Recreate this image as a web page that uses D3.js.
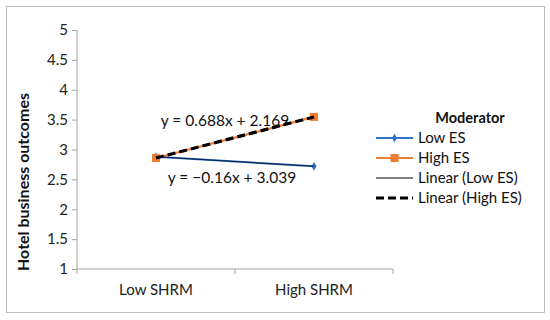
<!DOCTYPE html>
<html><head><meta charset="utf-8">
<script src="https://cdn.jsdelivr.net/npm/d3@7"></script>
<style>body{margin:0;background:#fff;} text{font-family:Lato,"Open Sans",sans-serif;}</style>
</head><body><svg id="c" width="550" height="320"></svg>
<script>
const categories = ["Low SHRM", "High SHRM"];
const lowES = [2.879, 2.719];
const highES = [2.857, 3.545];
const trendLow = {slope: -0.16, intercept: 3.039, label: "y = \u22120.16x + 3.039"};
const trendHigh = {slope: 0.688, intercept: 2.169, label: "y = 0.688x + 2.169"};
const yTicks = [1, 1.5, 2, 2.5, 3, 3.5, 4, 4.5, 5];
const legendItems = ["Low ES", "High ES", "Linear (Low ES)", "Linear (High ES)"];

const svg = d3.select("#c");
svg.append("rect").attr("x",6.5).attr("y",6.5).attr("width",538).attr("height",306)
  .attr("fill","#fff").attr("stroke","#bdbdbd").attr("stroke-width",1);

const x0 = 77, x1 = 393, yTop = 30, yBot = 269;
const x = d3.scaleBand().domain(categories).range([x0, x1]);
const y = d3.scaleLinear().domain([1,5]).range([yBot, yTop]);
const cx = c => x(c) + x.bandwidth()/2;

// y axis
const ya = svg.append("g").attr("transform",`translate(${x0},0)`)
  .call(d3.axisLeft(y).tickValues(yTicks).tickSize(5).tickPadding(4).tickFormat(d=>String(d)));
ya.select(".domain").attr("stroke","#a6a6a6").attr("d",`M0,${yTop}V${yBot}`);
ya.selectAll(".tick line").attr("stroke","#a6a6a6");
ya.selectAll("text").attr("font-size",15).attr("fill","#222").style("font-family","Lato,sans-serif");

// x axis
const xa = svg.append("g").attr("transform",`translate(0,${yBot})`)
  .call(d3.axisBottom(x).tickSize(0).tickPadding(15));
xa.select(".domain").attr("stroke","#a6a6a6").attr("d",`M${x0},0H${x1}`);
xa.selectAll("text").attr("font-size",15).attr("fill","#222").style("font-family","Lato,sans-serif");
[x0, x0 + x.bandwidth(), x1].forEach(v=>{
  xa.append("line").attr("x1",v).attr("x2",v).attr("y1",0).attr("y2",5).attr("stroke","#a6a6a6");
});

// y title
svg.append("text").attr("transform",`translate(29,182) rotate(-90)`)
  .attr("text-anchor","middle").attr("font-size",16).attr("font-weight","bold").attr("fill","#111")
  .text("Hotel business outcomes");

const line = d3.line().x((d,i)=>cx(categories[i])).y(d=>y(d));
const blue = "#2e75c6", orange = "#ed7d31";

// series
svg.append("path").datum(lowES).attr("d",line).attr("fill","none").attr("stroke",blue).attr("stroke-width",2);
svg.append("path").datum(highES).attr("d",line).attr("fill","none").attr("stroke",orange).attr("stroke-width",2.2);
// markers
svg.selectAll(".lm").data(lowES).enter().append("path")
  .attr("d",d3.symbol(d3.symbolDiamond, 22)).attr("transform",(d,i)=>`translate(${cx(categories[i])},${y(d)})`).attr("fill",blue);
svg.selectAll(".hm").data(highES).enter().append("rect")
  .attr("x",(d,i)=>cx(categories[i])-4).attr("y",d=>y(d)-4).attr("width",8).attr("height",8).attr("fill",orange);

// trendlines
const tl = t => categories.map((c,i)=>t.slope*(i+1)+t.intercept);
svg.append("path").datum(tl(trendLow)).attr("d",line).attr("fill","none").attr("stroke","#0b1f3f").attr("stroke-width",1);
svg.append("path").datum(tl(trendHigh)).attr("d",line).attr("fill","none").attr("stroke","#000").attr("stroke-width",3.2).attr("stroke-dasharray","8,4");

// equation labels
svg.append("text").attr("x",225).attr("y",126).attr("text-anchor","middle").attr("font-size",15.5).attr("fill","#111").text(trendHigh.label);
svg.append("text").attr("x",232).attr("y",183).attr("text-anchor","middle").attr("font-size",15.5).attr("fill","#111").text(trendLow.label);

// legend
const lg = svg.append("g");
lg.append("text").attr("x",470).attr("y",123).attr("text-anchor","middle").attr("font-size",14.5).attr("font-weight","bold").attr("fill","#111").text("Moderator");
const ly = i => 138 + i*20;
const lx0 = 376, lx1 = 413;
legendItems.forEach((name,i)=>{
  const g = lg.append("g");
  if (i===0){
    g.append("line").attr("x1",lx0).attr("x2",lx1).attr("y1",ly(i)).attr("y2",ly(i)).attr("stroke",blue).attr("stroke-width",2);
    g.append("path").attr("d",d3.symbol(d3.symbolDiamond,22)).attr("transform",`translate(${(lx0+lx1)/2},${ly(i)})`).attr("fill",blue);
  } else if (i===1){
    g.append("line").attr("x1",lx0).attr("x2",lx1).attr("y1",ly(i)).attr("y2",ly(i)).attr("stroke",orange).attr("stroke-width",2.2);
    g.append("rect").attr("x",(lx0+lx1)/2-4).attr("y",ly(i)-4).attr("width",8).attr("height",8).attr("fill",orange);
  } else if (i===2){
    g.append("line").attr("x1",lx0).attr("x2",lx1).attr("y1",ly(i)).attr("y2",ly(i)).attr("stroke","#000").attr("stroke-width",1);
  } else {
    g.append("line").attr("x1",lx0).attr("x2",lx1).attr("y1",ly(i)).attr("y2",ly(i)).attr("stroke","#000").attr("stroke-width",3.2).attr("stroke-dasharray","8,4");
  }
  g.append("text").attr("x",418).attr("y",ly(i)+5).attr("font-size",15).attr("fill","#111").text(name);
});
</script></body></html>
